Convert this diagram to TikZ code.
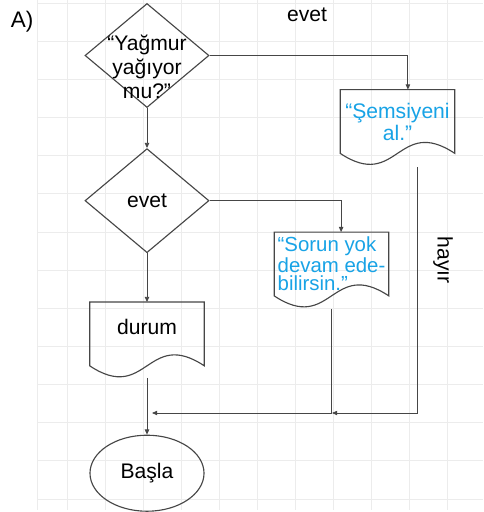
\documentclass[tikz,border=0pt]{standalone}
\usepackage{fontspec}
\setmainfont{Liberation Sans}
\usetikzlibrary{arrows.meta,positioning,shapes.geometric,calc}
\definecolor{inkgray}{RGB}{70,70,70}
\definecolor{msgblue}{RGB}{24,163,230}
\definecolor{gridgray}{RGB}{236,236,236}

\begin{document}
\begin{tikzpicture}[
    x=0.025cm, y=-0.025cm,
    font=\fontsize{15}{17}\selectfont,
    decision/.style={draw=inkgray, line width=0.8pt, diamond, minimum width=3.1cm, minimum height=2.6cm, inner sep=0pt},
    docbox/.style={minimum width=2.85cm, minimum height=1.58cm, inner sep=0pt, align=center},
    docline/.style={draw=inkgray, line width=0.8pt},
    terminal/.style={draw=inkgray, line width=0.8pt, ellipse, minimum width=2.85cm, minimum height=1.9cm},
    arrow/.style={-{Triangle[length=1.3mm,width=1.1mm]}, draw=inkgray, line width=0.6pt},
    gridline/.style={draw=gridgray, line width=0.5pt}
]
\fill[white] (0,0) rectangle (483,512);
\useasboundingbox (0,0) rectangle (483,512);

% grid
\foreach \k in {0,...,13}
    \draw[gridline] (37,3+38.15*\k) -- (483,3+38.15*\k);
\draw[gridline] (37,0) -- (37,510);
\foreach \k in {0,...,10}
    \draw[gridline] (67+38*\k,0) -- (67+38*\k,510);

% labels
\node[anchor=base west, font=\fontsize{16}{18}\selectfont] (title) at (6,28) {A)};
\node[anchor=base] (yes1) at (307,22) {evet};
\node[rotate=-90] (no1) at (443,260) {hayır};

% left column
\node[decision, label={[align=center, yshift=-0.28cm]center:{“Yağmur\\yağıyor\\mu?”}}] (dec1) at (147,55.5) {};
\node[decision, below=1.0cm of dec1] (dec2) {evet};
\node[docbox, text depth=0.33cm, below=1.22cm of dec2] (doc3) {durum};
\node[terminal, below=1.72cm of doc3] (basla) {Başla};

% right messages
\node[docbox, text=msgblue, font=\fontsize{15}{15.6}\selectfont] (doc1) at (397.5,121.5) {“Şemsiyeni\\al.”};
\node[docbox, text=msgblue, align=left, font=\fontsize{14.5}{13.3}\selectfont] (doc2) at (331.5,264) {“Sorun yok\\devam ede-\\bilirsin.”};

\foreach \d in {doc1,doc2,doc3}
    \draw[docline] (\d.north west) -- (\d.north east) -- (\d.south east)
        .. controls ($(\d.south)+(0,-38)$) and ($(\d.south)+(0,38)$) .. (\d.south west) -- cycle;

\coordinate (j2) at (332,413);
\coordinate (j1) at (152,413);

\draw[arrow] (dec1) -- (dec2);
\draw[arrow] (dec1.east) -| ([xshift=0.26cm]doc1.north);
\draw[arrow] (dec2.east) -| ([xshift=0.24cm]doc2.north);
\draw[arrow] (dec2) -- (doc3);
\draw[arrow] ([yshift=-0.3cm]doc3.south) -- (basla);
\draw[arrow] ([xshift=0.49cm,yshift=-0.35cm]doc1.south) |- (j2);
\draw[arrow] ([yshift=-0.33cm]doc2.south) |- (j1);
\end{tikzpicture}
\end{document}
